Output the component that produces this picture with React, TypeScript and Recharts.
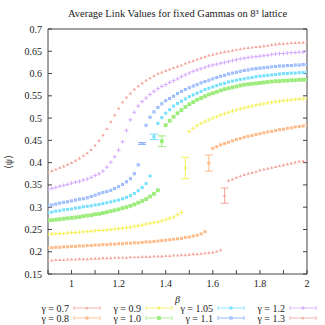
import React from 'react';
import { ComposedChart, Scatter, XAxis, YAxis, ErrorBar } from 'recharts';

// beta grid shared by all series
const BETA = [
  0.9, 0.9167, 0.9333, 0.95, 0.9667, 0.9833, 1.0, 1.0167, 1.0333, 1.05,
  1.0667, 1.0833, 1.1, 1.1167, 1.1333, 1.15, 1.1667, 1.1833, 1.2, 1.2167,
  1.2333, 1.25, 1.2667, 1.2833, 1.3, 1.3167, 1.3333, 1.35, 1.3667, 1.3833,
  1.4, 1.4167, 1.4333, 1.45, 1.4667, 1.4833, 1.5, 1.5167, 1.5333, 1.55,
  1.5667, 1.5833, 1.6, 1.6167, 1.6333, 1.65, 1.6667, 1.6833, 1.7, 1.7167,
  1.7333, 1.75, 1.7667, 1.7833, 1.8, 1.8167, 1.8333, 1.85, 1.8667, 1.8833,
  1.9, 1.9167, 1.9333, 1.95, 1.9667, 1.9833, 2.0,
];

// average link per gamma (null = no point on the grid there)
const G07 = [
  0.181, 0.181, 0.182, 0.182, 0.182, 0.183, 0.183, 0.183, 0.184, 0.184,
  0.184, 0.185, 0.185, 0.185, 0.186, 0.186, 0.186, 0.187, 0.187, 0.187,
  0.187, 0.188, 0.188, 0.188, 0.189, 0.189, 0.189, 0.19, 0.19, 0.19,
  0.191, 0.191, 0.192, 0.192, 0.193, 0.193, 0.194, 0.195, 0.195, 0.196,
  0.197, 0.198, 0.199, 0.201, 0.204, null,
  0.36, 0.363, 0.367, 0.37, 0.373, 0.376, 0.378, 0.38, 0.383, 0.385,
  0.387, 0.389, 0.391, 0.393, 0.395, 0.397, 0.399, 0.401, 0.403, 0.404, 0.406,
];
const G08 = [
  0.209, 0.209, 0.21, 0.21, 0.211, 0.211, 0.212, 0.212, 0.213, 0.213,
  0.214, 0.214, 0.215, 0.215, 0.216, 0.216, 0.217, 0.217, 0.218, 0.218,
  0.219, 0.219, 0.22, 0.22, 0.221, 0.222, 0.222, 0.223, 0.224, 0.225,
  0.226, 0.227, 0.228, 0.229, 0.23, 0.232, 0.233, 0.235, 0.237, 0.24,
  0.245, null,
  0.432, 0.436, 0.44, 0.443, 0.446, 0.449, 0.452, 0.454, 0.457, 0.459,
  0.461, 0.463, 0.465, 0.467, 0.469, 0.47, 0.472, 0.474, 0.475, 0.477,
  0.478, 0.48, 0.481, 0.482, 0.484,
];
const G09 = [
  0.239, 0.24, 0.24, 0.241, 0.241, 0.242, 0.243, 0.243, 0.244, 0.245,
  0.245, 0.246, 0.247, 0.248, 0.248, 0.249, 0.25, 0.251, 0.252, 0.253,
  0.254, 0.255, 0.257, 0.258, 0.26, 0.262, 0.264, 0.265, 0.267, 0.269,
  0.272, 0.275, 0.278, 0.283, 0.288, null,
  0.47, 0.477, 0.483, 0.488, 0.492, 0.496, 0.5, 0.503, 0.507, 0.51,
  0.513, 0.516, 0.518, 0.521, 0.523, 0.525, 0.527, 0.529, 0.531, 0.532,
  0.534, 0.535, 0.537, 0.538, 0.539, 0.54, 0.541, 0.542, 0.543, 0.543, 0.544,
];
const G10 = [
  0.27, 0.271, 0.272, 0.273, 0.274, 0.275, 0.276, 0.277, 0.278, 0.28,
  0.281, 0.282, 0.284, 0.285, 0.287, 0.289, 0.291, 0.293, 0.295, 0.298,
  0.3, 0.303, 0.306, 0.31, 0.314, 0.318, 0.324, 0.33, 0.338, null,
  0.484, 0.494, 0.503, 0.511, 0.518, 0.525, 0.531, 0.536, 0.541, 0.545,
  0.549, 0.553, 0.556, 0.559, 0.562, 0.565, 0.567, 0.569, 0.571, 0.573,
  0.575, 0.576, 0.577, 0.578, 0.579, 0.58, 0.581, 0.582, 0.583, 0.583,
  0.584, 0.584, 0.585, 0.585, 0.586, 0.586, 0.586,
];
const G105 = [
  0.288, 0.289, 0.291, 0.292, 0.294, 0.295, 0.296, 0.298, 0.299, 0.301,
  0.302, 0.303, 0.305, 0.306, 0.308, 0.31, 0.312, 0.314, 0.316, 0.319,
  0.322, 0.326, 0.331, 0.337, 0.344, 0.353, 0.37, null,
  0.488, 0.501, 0.511, 0.519, 0.527, 0.533, 0.538, 0.543, 0.548, 0.552,
  0.556, 0.56, 0.564, 0.567, 0.57, 0.573, 0.576, 0.578, 0.581, 0.583,
  0.585, 0.587, 0.588, 0.59, 0.591, 0.593, 0.594, 0.595, 0.596, 0.597,
  0.598, 0.599, 0.6, 0.6, 0.601, 0.601, 0.602, 0.602, 0.603,
];
const G11 = [
  0.304, 0.305, 0.307, 0.309, 0.311, 0.312, 0.314, 0.316, 0.318, 0.319,
  0.321, 0.324, 0.327, 0.33, 0.333, 0.335, 0.338, 0.342, 0.346, 0.351,
  0.357, 0.364, 0.375, 0.395, null,
  0.484, 0.502, 0.514, 0.524, 0.532, 0.539, 0.544, 0.549, 0.555, 0.56,
  0.564, 0.568, 0.572, 0.575, 0.579, 0.582, 0.585, 0.588, 0.591, 0.594,
  0.596, 0.599, 0.601, 0.603, 0.605, 0.607, 0.608, 0.61, 0.611, 0.612,
  0.613, 0.614, 0.615, 0.616, 0.617, 0.617, 0.618, 0.618, 0.619, 0.619,
  0.62, 0.62,
];
const G12 = [
  0.34, 0.342, 0.344, 0.347, 0.349, 0.351, 0.354, 0.356, 0.358, 0.361,
  0.363, 0.367, 0.371, 0.375, 0.381, 0.39, 0.401, 0.413, 0.428, 0.447,
  0.472, 0.496, 0.513, 0.527, 0.537, 0.545, 0.553, 0.56, 0.566, 0.571,
  0.575, 0.58, 0.584, 0.588, 0.593, 0.597, 0.601, 0.605, 0.608, 0.611,
  0.614, 0.617, 0.619, 0.621, 0.623, 0.625, 0.627, 0.629, 0.631, 0.633,
  0.634, 0.636, 0.637, 0.638, 0.639, 0.64, 0.641, 0.643, 0.644, 0.645,
  0.645, 0.646, 0.647, 0.647, 0.648, 0.648, 0.649,
];
const G13 = [
  0.378, 0.382, 0.385, 0.389, 0.392, 0.396, 0.4, 0.405, 0.41, 0.416,
  0.422, 0.429, 0.439, 0.45, 0.462, 0.476, 0.492, 0.507, 0.522, 0.536,
  0.547, 0.556, 0.565, 0.572, 0.579, 0.585, 0.59, 0.595, 0.6, 0.603,
  0.607, 0.61, 0.613, 0.616, 0.619, 0.623, 0.626, 0.629, 0.632, 0.635,
  0.638, 0.641, 0.643, 0.645, 0.647, 0.649, 0.65, 0.652, 0.654, 0.655,
  0.657, 0.658, 0.659, 0.66, 0.661, 0.662, 0.663, 0.665, 0.666, 0.667,
  0.667, 0.668, 0.669, 0.669, 0.67, 0.67, 0.671,
];

const GAMMAS = ['0.7', '0.8', '0.9', '1.0', '1.05', '1.1', '1.2', '1.3'];
const VALUES = [G07, G08, G09, G10, G105, G11, G12, G13];

// points in the jump, with their error bars (gamma 0.7 .. 1.1)
const JUMP_BETA = [1.65, 1.5833, 1.4833, 1.3833, 1.35, 1.3];
const JUMP_VALUE = [0.326, 0.399, 0.388, 0.448, 0.458, 0.443];
const JUMP_ERR = [0.017, 0.018, 0.024, 0.012, 0.006, 0.002];

const X_TICKS = [0.9, 1.0, 1.1, 1.2, 1.3, 1.4, 1.5, 1.6, 1.7, 1.8, 1.9, 2.0];
const X_LABELS = ['', '1', '', '1.2', '', '1.4', '', '1.6', '', '1.8', '', '2'];
const Y_TICKS = [0.15, 0.2, 0.25, 0.3, 0.35, 0.4, 0.45, 0.5, 0.55, 0.6, 0.65, 0.7];
const Y_LABELS = ['0.15', '0.2', '0.25', '0.3', '0.35', '0.4', '0.45', '0.5', '0.55', '0.6', '0.65', '0.7'];

const COLORS = ['#f5a49c', '#ffba88', '#f4f058', '#9cec7c', '#74e0ff', '#80a8ff', '#d4aaff', '#f5a49c'];
const MARKS = ['tri', 'square', 'plus', 'box', 'square', 'xbox', 'plus', 'tri'];

const FONT = '"Liberation Serif", "DejaVu Serif", serif';
const INK = '#222';

function marker(kind: string, color: string, cx: number, cy: number) {
  if (cx == null || cy == null) return <g />;
  switch (kind) {
    case 'tri':
      return <path d={`M${cx - 1.7},${cy + 1.3}L${cx + 1.7},${cy + 1.3}L${cx},${cy - 1.6}Z`} fill={color} />;
    case 'square':
      return <rect x={cx - 1.5} y={cy - 1.5} width={3} height={3} fill={color} />;
    case 'box':
      return <rect x={cx - 1.9} y={cy - 1.9} width={3.8} height={3.8} fill={color} />;
    case 'xbox':
      return (
        <g>
          <rect x={cx - 1.5} y={cy - 1.5} width={3} height={3} fill={color} />
          <path d={`M${cx - 1.2},${cy - 1.2}L${cx + 1.2},${cy + 1.2}M${cx - 1.2},${cy + 1.2}L${cx + 1.2},${cy - 1.2}`} stroke="#e4ecff" strokeWidth={0.5} />
        </g>
      );
    default:
      return <path d={`M${cx - 2},${cy}H${cx + 2}M${cx},${cy - 2}V${cy + 2}`} stroke={color} strokeWidth={1} />;
  }
}

const seriesData = (vals: (number | null)[]) =>
  BETA.map((b, i) => (vals[i] == null ? null : { beta: b, v: vals[i] })).filter(Boolean) as { beta: number; v: number }[];

const labelFor = (ticks: number[], labels: string[], v: number) => {
  const i = ticks.findIndex((t) => Math.abs(t - v) < 1e-6);
  return i < 0 ? '' : labels[i];
};

const XTick = (p: any) => (
  <text x={p.x} y={p.y + 9} textAnchor="middle" fontSize={10} fontFamily={FONT} fill={INK}>
    {labelFor(X_TICKS, X_LABELS, p.payload.value)}
  </text>
);
const YTick = (p: any) => (
  <text x={p.x} y={p.y + 3.5} textAnchor="end" fontSize={10} fontFamily={FONT} fill={INK}>
    {labelFor(Y_TICKS, Y_LABELS, p.payload.value)}
  </text>
);

export default function App() {
  return (
    <div style={{ position: 'absolute', left: 0, top: 0, width: 325, height: 325, background: '#fff' }}>
      <ComposedChart width={325} height={325} margin={{ top: 28, right: 17, bottom: 21, left: 8 }}>
        <XAxis
          xAxisId="b"
          type="number"
          dataKey="beta"
          domain={[0.9, 2]}
          ticks={X_TICKS}
          interval={0}
          height={30}
          tickSize={-4}
          tickMargin={8}
          tick={XTick}
          stroke="#444"
          allowDataOverflow
        />
        <XAxis
          xAxisId="t"
          orientation="top"
          type="number"
          domain={[0.9, 2]}
          ticks={X_TICKS}
          interval={0}
          tickFormatter={() => ''}
          height={1}
          tickSize={-4}
          stroke="#444"
          allowDataOverflow
        />
        <YAxis
          yAxisId="l"
          type="number"
          domain={[0.15, 0.7]}
          ticks={Y_TICKS}
          interval={0}
          width={40}
          tickSize={-4}
          tickMargin={10}
          tick={YTick}
          stroke="#444"
          allowDataOverflow
        />
        <YAxis
          yAxisId="r"
          orientation="right"
          type="number"
          domain={[0.15, 0.7]}
          ticks={Y_TICKS}
          interval={0}
          tickFormatter={() => ''}
          width={1}
          tickSize={-4}
          stroke="#444"
          allowDataOverflow
        />
        {VALUES.map((vals, k) => (
          <Scatter
            key={GAMMAS[k]}
            name={`γ = ${GAMMAS[k]}`}
            xAxisId="b"
            yAxisId="l"
            data={seriesData(vals)}
            dataKey="v"
            isAnimationActive={false}
            shape={(p: any) => marker(MARKS[k], COLORS[k], p.cx, p.cy)}
          />
        ))}
        {JUMP_BETA.map((b, k) => (
          <Scatter
            key={'jump' + k}
            xAxisId="b"
            yAxisId="l"
            data={[{ beta: b, v: JUMP_VALUE[k], err: JUMP_ERR[k] }]}
            dataKey="v"
            isAnimationActive={false}
            shape={(p: any) => marker(MARKS[k], COLORS[k], p.cx, p.cy)}
          >
            <ErrorBar dataKey="err" direction="y" width={4} stroke={COLORS[k]} strokeWidth={1} />
          </Scatter>
        ))}
      </ComposedChart>

      <svg width={325} height={325} style={{ position: 'absolute', left: 0, top: 0, pointerEvents: 'none' }}>
        <text x={177.5} y={17} textAnchor="middle" fontSize={10.5} fontFamily={FONT} fill={INK}>
          Average Link Values for fixed Gammas on 8³ lattice
        </text>
        <text x={177.5} y={303} textAnchor="middle" fontSize={10} fontStyle="italic" fontFamily={FONT} fill={INK}>β</text>
        <text x={12} y={162} textAnchor="middle" fontSize={10} fontFamily={FONT} fill={INK} transform="rotate(-90 12 162)">
          ⟨ψ⟩
        </text>
        {GAMMAS.map((g, k) => {
          const col = Math.floor(k / 2);
          const row = k % 2;
          const tr = 69 + col * 72;
          const y = 308 + row * 10;
          const x1 = tr + 5;
          const x2 = tr + 31;
          const c = COLORS[k];
          return (
            <g key={g}>
              <text x={tr} y={y + 3.5} textAnchor="end" fontSize={10} fontFamily={FONT} fill={INK}>{`γ = ${g}`}</text>
              <path d={`M${x1},${y}H${x2}M${x1},${y - 2}V${y + 2}M${x2},${y - 2}V${y + 2}`} stroke={c} strokeWidth={1} opacity={0.8} />
              {marker(MARKS[k], c, (x1 + x2) / 2, y)}
            </g>
          );
        })}
      </svg>
    </div>
  );
}
